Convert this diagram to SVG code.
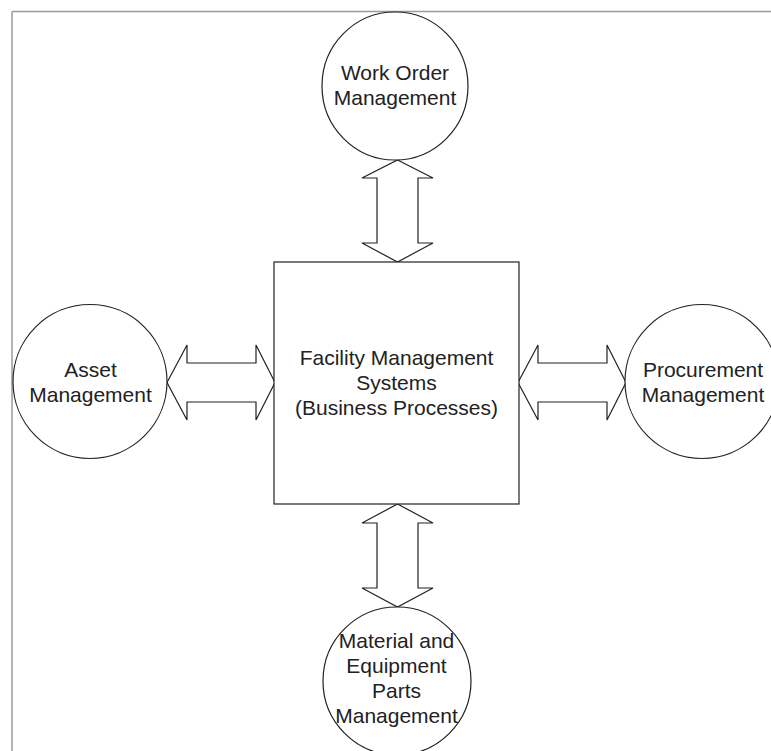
<svg xmlns="http://www.w3.org/2000/svg" width="771" height="751" viewBox="0 0 771 751">
<style>
.frame{stroke:#9a9a9a;stroke-width:1.5;fill:none}
.node{fill:#fff;stroke:#222;stroke-width:1.2}
.arrow{fill:#fff;stroke:#222;stroke-width:1.2;stroke-linejoin:miter}
text{font-family:"Liberation Sans",Arial,Helvetica,sans-serif;font-size:21px;fill:#222;text-anchor:middle}
</style>
<rect width="771" height="751" fill="#fff"/>
<g id="frame">
<line class="frame" x1="12" y1="11.5" x2="771" y2="11.5"/>
<line class="frame" x1="12" y1="11.5" x2="12" y2="751"/>
</g>
<g id="connectors">
<polygon class="arrow" points="397.5,160 433,178 418,178 418,243 433,243 397.5,262 362,243 377,243 377,178 362,178"/>
<polygon class="arrow" points="397.5,504 433,523 418,523 418,588 433,588 397.5,607 362,588 377,588 377,523 362,523"/>
<polygon class="arrow" points="167,382.5 187,345 187,363 256,363 256,345 275,382.5 256,420 256,402 187,402 187,420"/>
<polygon class="arrow" points="518,382.5 538,345 538,363 607,363 607,345 626,382.5 607,420 607,402 538,402 538,420"/>
</g>
<g id="center">
<rect class="node" x="274" y="262" width="245" height="242"/>
<text x="396.5" y="365">Facility Management</text>
<text x="396.5" y="390">Systems</text>
<text x="396.5" y="415">(Business Processes)</text>
</g>
<g id="work-order">
<ellipse class="node" cx="395" cy="86" rx="73" ry="74"/>
<text x="395" y="80">Work Order</text>
<text x="395" y="105">Management</text>
</g>
<g id="asset">
<circle class="node" cx="90" cy="381.5" r="77"/>
<text x="90.5" y="377">Asset</text>
<text x="90.5" y="402">Management</text>
</g>
<g id="procurement">
<circle class="node" cx="702" cy="381.5" r="77"/>
<text x="703" y="377">Procurement</text>
<text x="703" y="402">Management</text>
</g>
<g id="material">
<ellipse class="node" cx="397" cy="681" rx="74" ry="74"/>
<text x="396.5" y="648">Material and</text>
<text x="396.5" y="673">Equipment</text>
<text x="396.5" y="698">Parts</text>
<text x="396.5" y="723">Management</text>
</g>
</svg>
